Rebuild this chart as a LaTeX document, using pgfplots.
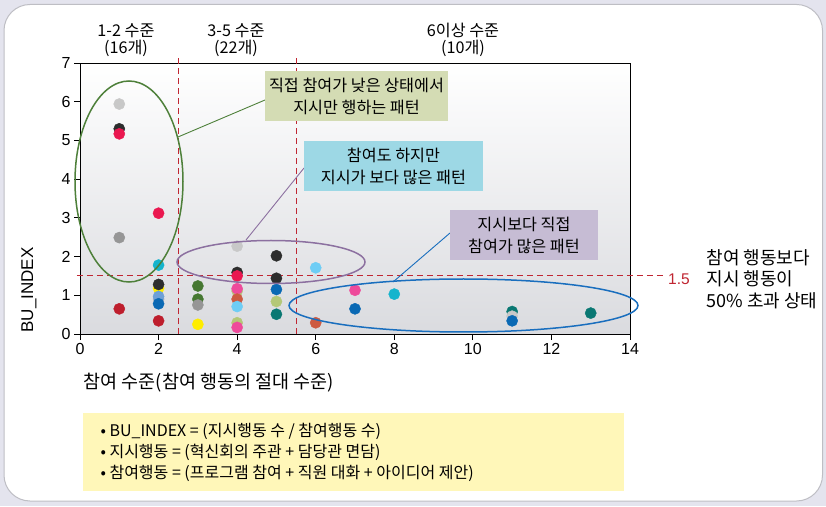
\documentclass[border=0pt]{standalone}
\usepackage{fontspec}
\usepackage{pgfplots}
\pgfplotsset{compat=1.18}
\setmainfont{Liberation Sans}
\newfontfamily\kr{Noto Sans CJK KR}

\definecolor{pagebg}{RGB}{228,228,238}
\definecolor{panelline}{RGB}{190,190,196}
\definecolor{plotbot}{RGB}{218,219,223}
\definecolor{refred}{RGB}{192,38,50}
\definecolor{ellgreen}{RGB}{78,128,58}
\definecolor{ellpurple}{RGB}{140,112,160}
\definecolor{ellblue}{RGB}{25,110,190}
\definecolor{boxgreen}{RGB}{212,220,180}
\definecolor{boxcyan}{RGB}{157,216,229}
\definecolor{boxpurple}{RGB}{198,188,212}
\definecolor{boxyellow}{RGB}{255,247,185}
% point colours
\definecolor{cLG}{RGB}{200,200,200}
\definecolor{cBK}{RGB}{45,45,45}
\definecolor{cCR}{RGB}{234,24,80}
\definecolor{cGY}{RGB}{150,150,150}
\definecolor{cDR}{RGB}{190,30,45}
\definecolor{cCY}{RGB}{20,180,205}
\definecolor{cYE}{RGB}{255,237,0}
\definecolor{cSB}{RGB}{110,160,215}
\definecolor{cLBG}{RGB}{160,175,195}
\definecolor{cBL}{RGB}{10,105,180}
\definecolor{cGR}{RGB}{70,120,50}
\definecolor{cLO}{RGB}{180,200,120}
\definecolor{cTC}{RGB}{205,90,65}
\definecolor{cLB}{RGB}{110,205,245}
\definecolor{cHP}{RGB}{238,75,155}
\definecolor{cTE}{RGB}{10,120,115}

\pgfplotstableread{
x  y     c
1  5.94  LG
1  5.30  BK
1  5.17  CR
1  2.49  GY
1  0.65  DR
2  3.12  CR
2  1.78  CY
2  1.18  YE
2  1.28  BK
2  0.90  LBG
2  0.97  SB
2  0.78  BL
2  0.34  DR
3  1.24  GR
3  0.90  GR
3  0.75  GY
3  0.25  YE
4  2.27  LG
4  1.59  BK
4  1.50  CR
4  1.11  LO
4  1.17  HP
4  0.90  TC
4  0.71  LB
4  0.29  LO
4  0.17  HP
5  2.02  BK
5  1.44  BK
5  1.15  BL
5  0.84  LO
5  0.51  TE
6  1.71  LB
6  0.29  TC
7  1.13  HP
7  0.65  BL
8  1.03  CY
11 0.58  TE
11 0.46  LG
11 0.34  BL
13 0.54  TE
}\levels

\begin{document}
\begin{tikzpicture}[x=1pt,y=1pt]
% page and white panel
\fill[pagebg] (0,0) rectangle (826,506);
\draw[panelline, line width=1pt, fill=white, rounded corners=26pt] (4,5) rectangle (822.5,501.5);

\begin{axis}[
  at={(80pt,172pt)}, anchor=south west,
  width=550pt, height=271pt, scale only axis,
  xmin=0, xmax=14, ymin=0, ymax=7,
  xtick={0,2,...,14}, ytick={0,1,...,7},
  xtick pos=bottom, ytick pos=left,
  tick align=outside, major tick length=6pt,
  every tick/.style={black, line width=0.8pt},
  axis line style={black, line width=0.8pt},
  ticklabel style={font=\fontsize{16}{16}\selectfont},
  /pgf/number format/assume math mode=true,
  axis background/.style={shade, top color=white, bottom color=plotbot},
  clip=false,
]
% group boundaries and the 1.5 reference level
\draw[refred, line width=1pt, dash pattern=on 6pt off 4pt] (axis cs:2.5,0) -- (axis cs:2.5,7.2);
\draw[refred, line width=1pt, dash pattern=on 6pt off 4pt] (axis cs:5.5,0) -- (axis cs:5.5,7.2);
\draw[refred, line width=1pt, dash pattern=on 6pt off 4pt] (axis cs:-0.08,1.5) -- (axis cs:14.83,1.5);

\addplot[scatter, only marks, mark=*, mark size=5.6pt,
  scatter src=explicit symbolic,
  scatter/classes={
    LG={cLG}, BK={cBK}, CR={cCR}, GY={cGY}, DR={cDR}, CY={cCY},
    YE={cYE}, SB={cSB}, LBG={cLBG}, BL={cBL}, GR={cGR}, LO={cLO},
    TC={cTC}, LB={cLB}, HP={cHP}, TE={cTE}}]
  table[x=x, y=y, meta=c] {\levels};
\end{axis}

% pattern ellipses
\draw[ellgreen, line width=1.5pt] (129,324.5) ellipse [x radius=54, y radius=100.5];
\draw[ellpurple, line width=1.5pt] (271,244) ellipse [x radius=94, y radius=21.5];
\draw[ellblue, line width=1.5pt] (463.5,200.5) ellipse [x radius=174.5, y radius=26.5];

% leader lines
\draw[ellgreen, line width=0.9pt] (178,369) -- (265,406);
\draw[ellpurple, line width=0.9pt] (246,266) -- (304,338);
\draw[ellblue, line width=0.9pt] (393,224) -- (450,273);

% callout boxes
\fill[boxgreen] (265,385) rectangle (448,435);
\node[align=center, font=\kr\fontsize{16.2}{22}\selectfont] at (356.5,410) {직접 참여가 낮은 상태에서\\지시만 행하는 패턴};
\fill[boxcyan] (304,315) rectangle (483,365);
\node[align=center, font=\kr\fontsize{16.2}{22}\selectfont] at (393.5,340) {참여도 하지만\\지시가 보다 많은 패턴};
\fill[boxpurple] (450,246) rectangle (598,296);
\node[align=center, font=\kr\fontsize{16.2}{22}\selectfont] at (524,271) {지시보다 직접\\참여가 많은 패턴};

% group headings
\node[align=center, font=\kr\fontsize{16.2}{16.5}\selectfont] at (126,466) {1-2 수준\\(16개)};
\node[align=center, font=\kr\fontsize{16.2}{16.5}\selectfont] at (236,466) {3-5 수준\\(22개)};
\node[align=center, font=\kr\fontsize{16.2}{16.5}\selectfont] at (463,466) {6이상 수준\\(10개)};

% axis titles
\node[rotate=90, font=\fontsize{17}{17}\selectfont] at (29,216) {BU\_INDEX};
\node[anchor=west, font=\kr\fontsize{18.5}{18.5}\selectfont] at (80,123) {참여 수준(참여 행동의 절대 수준)};

% reference level note
\node[refred, font=\fontsize{15.5}{15.5}\selectfont] at (679,227) {1.5};
\node[anchor=west, align=left, font=\kr\fontsize{18}{21.5}\selectfont] at (703,227) {참여 행동보다\\지시 행동이\\50\% 초과 상태};

% definitions box
\fill[boxyellow] (83,15) rectangle (624,93);
\node[anchor=west, align=left, font=\kr\fontsize{16}{21}\selectfont] at (97,53.5) {• BU\_INDEX = (지시행동 수 / 참여행동 수)\\• 지시행동 = (혁신회의 주관 + 담당관 면담)\\• 참여행동 = (프로그램 참여 + 직원 대화 + 아이디어 제안)};
\end{tikzpicture}
\end{document}
